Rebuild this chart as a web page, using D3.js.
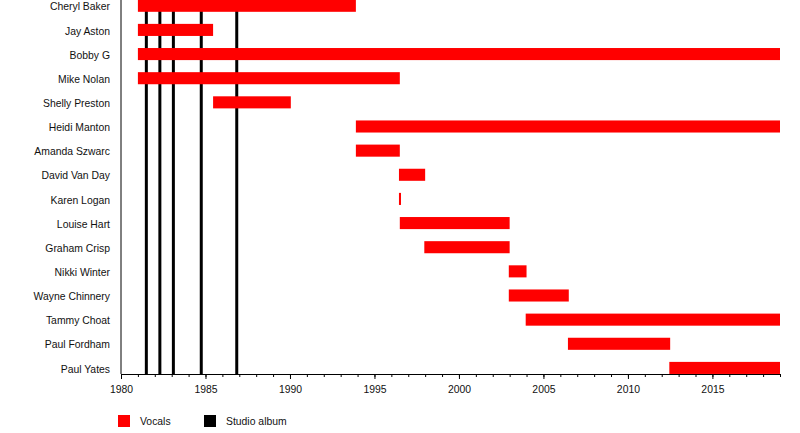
<!DOCTYPE html>
<html>

<head>
    <title>Bucks Fizz timeline</title>
    <script src="https://d3js.org/d3.v7.min.js"></script>
    <style>
        body {
            margin: 0;
            background: white;
        }

        text {
            font-family: "Liberation Sans", Arial, sans-serif;
            font-size: 10.4px;
            fill: #111;
        }

        .axis path,
        .axis line {
            stroke: black;
        }
    </style>
</head>

<body>
    <div id="timeline"></div>

    <script>
        // members, top to bottom
        const members = ["Cheryl Baker", "Jay Aston", "Bobby G", "Mike Nolan", "Shelly Preston",
            "Heidi Manton", "Amanda Szwarc", "David Van Day", "Karen Logan", "Louise Hart",
            "Graham Crisp", "Nikki Winter", "Wayne Chinnery", "Tammy Choat", "Paul Fordham", "Paul Yates"];
        const vocalStart = [1981.0, 1981.0, 1981.0, 1981.0, 1985.45,
            1993.9, 1993.9, 1996.45, 1996.45, 1996.5,
            1997.95, 2002.95, 2002.95, 2003.95, 2006.45, 2012.45];
        const vocalEnd = [1993.9, 1985.45, 2019.0, 1996.5, 1990.05,
            2019.0, 1996.5, 1998.0, 1996.57, 2003.0,
            2003.0, 2004.0, 2006.5, 2019.0, 2012.5, 2019.0];
        const albumYears = [1981.5, 1982.3, 1983.1, 1984.75, 1986.85];
        const majorTicks = [1980, 1985, 1990, 1995, 2000, 2005, 2010, 2015];
        const minorTicks = d3.range(1980, 2020);
        const legendLabels = ["Vocals", "Studio album"];
        const legendColors = ["red", "black"];

        var width = 800, height = 433;
        var axisY = 374;

        var svg = d3.select("#timeline")
            .append("svg")
            .attr("width", width)
            .attr("height", height);

        var x = d3.scaleLinear()
            .domain([1980, 2019])
            .range([121, 780]);

        var y = d3.scaleBand()
            .domain(members)
            .range([-6.3, 380])
            .paddingInner(0.5)
            .paddingOuter(0.25);

        // studio album lines (under the bars)
        svg.selectAll(".album")
            .data(albumYears)
            .enter()
            .append("line")
            .attr("class", "album")
            .attr("x1", d => x(d))
            .attr("x2", d => x(d))
            .attr("y1", 0)
            .attr("y2", axisY)
            .attr("stroke", "black")
            .attr("stroke-width", 3);

        // vocal bars
        var rows = members.map((m, i) => ({ name: m, start: vocalStart[i], end: vocalEnd[i] }));
        svg.selectAll(".bar")
            .data(rows)
            .enter()
            .append("rect")
            .attr("class", "bar")
            .attr("x", d => x(d.start))
            .attr("y", d => y(d.name))
            .attr("width", d => x(d.end) - x(d.start))
            .attr("height", y.bandwidth())
            .attr("fill", "red");

        // member labels
        svg.selectAll(".label")
            .data(members)
            .enter()
            .append("text")
            .attr("class", "label")
            .attr("x", 110)
            .attr("y", d => y(d) + y.bandwidth() / 2)
            .attr("dy", "0.45em")
            .attr("text-anchor", "end")
            .text(d => d);

        // left axis line
        svg.append("line")
            .attr("x1", x(1980))
            .attr("x2", x(1980))
            .attr("y1", 0)
            .attr("y2", axisY)
            .attr("stroke", "black");

        // minor ticks
        svg.append("g")
            .attr("class", "axis")
            .attr("transform", "translate(0," + axisY + ")")
            .call(d3.axisBottom(x).tickValues(minorTicks).tickSize(3).tickFormat("").tickSizeOuter(0));

        // major ticks + labels
        var xAxis = svg.append("g")
            .attr("class", "axis")
            .attr("transform", "translate(0," + axisY + ")")
            .call(d3.axisBottom(x).tickValues(majorTicks).tickSize(5).tickSizeOuter(0).tickFormat(d3.format("d")));
        xAxis.selectAll("text")
            .attr("y", 11.5)
            .style("font-size", "10.4px")
            .style("font-family", "'Liberation Sans', Arial, sans-serif")
            .attr("fill", "#111");

        // legend
        var legend = svg.selectAll(".legend")
            .data(legendLabels)
            .enter()
            .append("g")
            .attr("class", "legend")
            .attr("transform", (d, i) => "translate(" + (118 + i * 86) + ",415)");
        legend.append("rect")
            .attr("width", 12)
            .attr("height", 12)
            .attr("fill", (d, i) => legendColors[i]);
        legend.append("text")
            .attr("x", 22)
            .attr("y", 6)
            .attr("dy", "0.4em")
            .text(d => d);
    </script>
</body>

</html>
